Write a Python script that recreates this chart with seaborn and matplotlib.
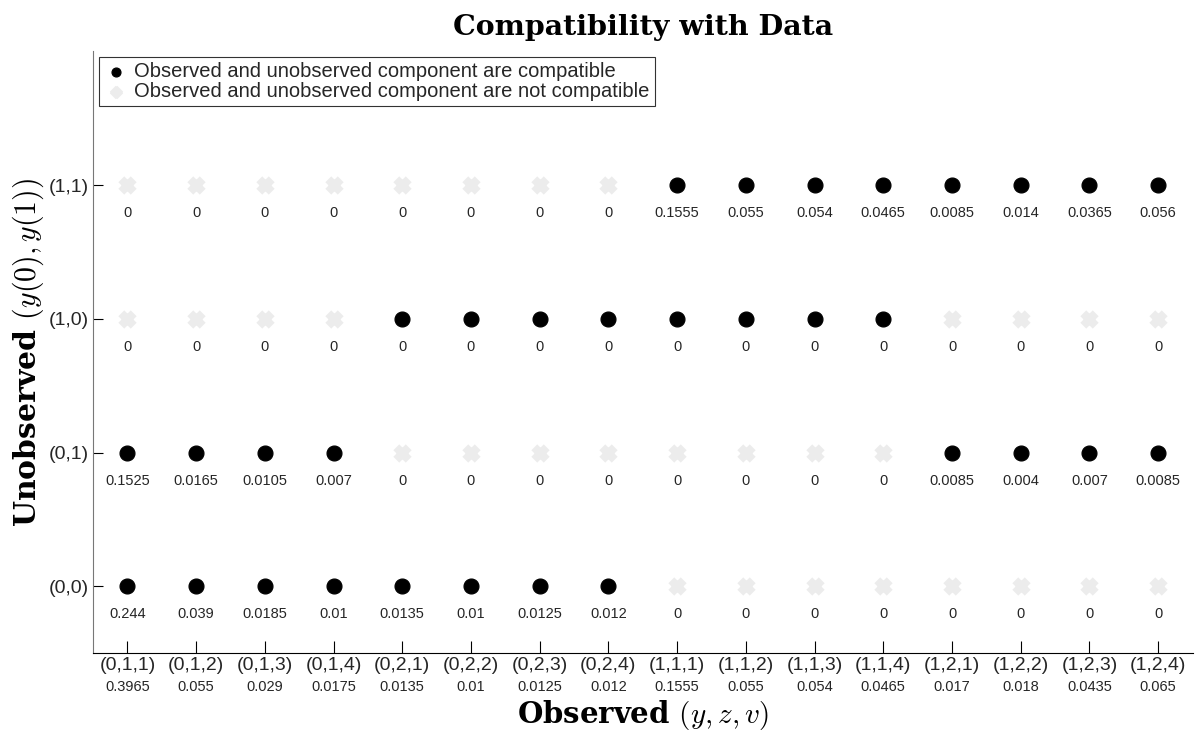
import seaborn as sns
import matplotlib.pyplot as plt
import pandas as pd

# observed (y,z,v) cells and unobserved (y(0),y(1)) types
observed = ['(0,1,1)', '(0,1,2)', '(0,1,3)', '(0,1,4)', '(0,2,1)', '(0,2,2)', '(0,2,3)', '(0,2,4)',
            '(1,1,1)', '(1,1,2)', '(1,1,3)', '(1,1,4)', '(1,2,1)', '(1,2,2)', '(1,2,3)', '(1,2,4)']
unobserved = ['(0,0)', '(0,1)', '(1,0)', '(1,1)']
marginal = [0.3965, 0.055, 0.029, 0.0175, 0.0135, 0.01, 0.0125, 0.012,
            0.1555, 0.055, 0.054, 0.0465, 0.017, 0.018, 0.0435, 0.065]

# compatibility (1 = compatible) per unobserved row
compat_00 = [1, 1, 1, 1, 1, 1, 1, 1, 0, 0, 0, 0, 0, 0, 0, 0]
compat_01 = [1, 1, 1, 1, 0, 0, 0, 0, 0, 0, 0, 0, 1, 1, 1, 1]
compat_10 = [0, 0, 0, 0, 1, 1, 1, 1, 1, 1, 1, 1, 0, 0, 0, 0]
compat_11 = [0, 0, 0, 0, 0, 0, 0, 0, 1, 1, 1, 1, 1, 1, 1, 1]

# joint probabilities shown under each point
prob_00 = [0.244, 0.039, 0.0185, 0.01, 0.0135, 0.01, 0.0125, 0.012, 0, 0, 0, 0, 0, 0, 0, 0]
prob_01 = [0.1525, 0.0165, 0.0105, 0.007, 0, 0, 0, 0, 0, 0, 0, 0, 0.0085, 0.004, 0.007, 0.0085]
prob_10 = [0, 0, 0, 0, 0, 0, 0, 0, 0, 0, 0, 0, 0, 0, 0, 0]
prob_11 = [0, 0, 0, 0, 0, 0, 0, 0, 0.1555, 0.055, 0.054, 0.0465, 0.0085, 0.014, 0.0365, 0.056]

compat = [compat_00, compat_01, compat_10, compat_11]
probs = [prob_00, prob_01, prob_10, prob_11]

rows = []
for j in range(len(unobserved)):
    for i in range(len(observed)):
        rows.append({'x': i + 1, 'y': j, 'compatible': compat[j][i], 'p': probs[j][i]})
df = pd.DataFrame(rows)

sns.set_style("white")
plt.rcParams['font.family'] = ['Liberation Sans', 'DejaVu Sans']
plt.rcParams['mathtext.fontset'] = 'cm'

fig = plt.figure(figsize=(11.99, 7.33), dpi=100)
ax = fig.add_axes([0.0776, 0.109, 0.917, 0.821])

no = df[df.compatible == 0]
yes = df[df.compatible == 1]
sns.scatterplot(data=no, x='x', y='y', marker='x', s=80, linewidth=6, color='#ececec',
                ax=ax, label='Observed and unobserved component are not compatible', zorder=2)
sns.scatterplot(data=yes, x='x', y='y', marker='o', s=115, color='black', edgecolor='black',
                ax=ax, label='Observed and unobserved component are compatible', zorder=3)

for _, r in df.iterrows():
    ax.text(r.x, r.y - 0.21, f"{r.p:g}", ha='center', va='center', fontsize=10.5)

ax.set_xlim(0.5, 16.5)
ax.set_ylim(-0.5, 4)
ax.set_xticks(range(1, len(observed) + 1))
ax.set_xticklabels(observed, fontsize=14)
ax.set_yticks(range(len(unobserved)))
ax.set_yticklabels(unobserved, fontsize=14)
ax.tick_params(bottom=True, left=True, direction='in', length=9, width=0.8, color='black', pad=3)
ax.tick_params(axis='y', length=7)

trans = ax.get_xaxis_transform()
for i, m in enumerate(marginal):
    ax.text(i + 1, -0.057, f"{m:g}", transform=trans, ha='center', va='center', fontsize=10.5)

sns.despine(ax=ax)
ax.spines['left'].set_color('#777777')
ax.spines['bottom'].set_color('black')

serif = dict(family='DejaVu Serif', weight='bold', color='black')
ax.set_title('Compatibility with Data', fontsize=20.5, pad=12, **serif)
ax.set_xlabel(r'Observed $(y,z,v)$', fontsize=21, labelpad=17, **serif)
ax.set_ylabel(r'Unobserved $(y(0),y(1))$', fontsize=21.5, labelpad=2, **serif)

handles, labels = ax.get_legend_handles_labels()
leg = ax.legend(handles[::-1], labels[::-1], loc='upper left', fontsize=14.5, frameon=True,
                fancybox=False, edgecolor='black', borderpad=0.25, handletextpad=0.3,
                labelspacing=0.05, borderaxespad=0.3, handlelength=1.2, markerscale=0.6)
leg.get_frame().set_linewidth(0.8)

fig.savefig('out.png', dpi=100)
